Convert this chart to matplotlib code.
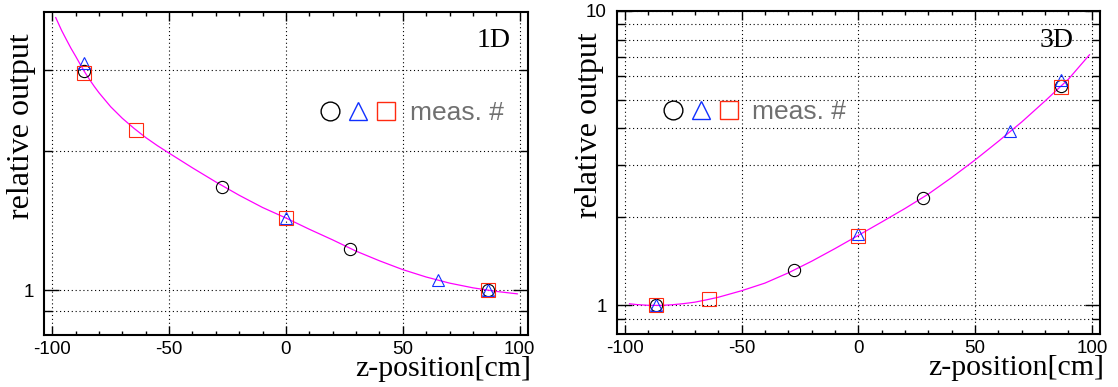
import matplotlib
matplotlib.use("Agg")
import matplotlib.pyplot as plt
from matplotlib.lines import Line2D
from matplotlib.legend_handler import HandlerTuple
from matplotlib.ticker import NullFormatter

plt.rcParams['font.family'] = ['Liberation Sans', 'DejaVu Sans']

# --- 1D panel values ---
z_circ_1d = [-86.6, -27.5, 27.5, 86.6]
out_circ_1d = [2.98, 1.67, 1.225, 1.0]
z_tri_1d = [-86.6, 0.0, 65.0, 86.6]
out_tri_1d = [3.10, 1.43, 1.052, 1.0]
z_sq_1d = [-86.6, -64.0, 0.0, 86.6]
out_sq_1d = [2.95, 2.22, 1.435, 1.0]
fit_z_1d = [-98.5, -96, -94, -92, -90, -88, -86, -84, -82, -80, -75, -70, -65, -60,
            -55, -50, -40, -30, -20, -10, 0, 10, 20, 30, 40, 50, 60, 70, 80, 90, 99]
fit_out_1d = [3.89, 3.65, 3.49, 3.34, 3.21, 3.08, 2.96, 2.855, 2.76, 2.675, 2.495,
              2.355, 2.24, 2.14, 2.055, 1.98, 1.84, 1.715, 1.605, 1.51, 1.433,
              1.355, 1.285, 1.215, 1.158, 1.108, 1.068, 1.036, 1.012, 0.994, 0.982]

# --- 3D panel values ---
z_circ_3d = [-86.6, -27.5, 27.5, 86.6]
out_circ_3d = [1.0, 1.318, 2.31, 5.57]
z_tri_3d = [-86.6, 0.0, 65.0, 86.6]
out_tri_3d = [1.0, 1.744, 3.92, 5.84]
z_sq_3d = [-86.6, -64.0, 0.0, 86.6]
out_sq_3d = [1.0, 1.048, 1.72, 5.50]
fit_z_3d = [-98, -95, -90, -85, -80, -75, -70, -65, -60, -50, -40, -30, -20, -10,
            0, 10, 20, 30, 40, 50, 60, 70, 80, 90, 99]
fit_out_3d = [1.013, 1.007, 1.001, 1.0, 1.005, 1.014, 1.026, 1.045, 1.066, 1.122,
              1.191, 1.29, 1.413, 1.56, 1.73, 1.92, 2.135, 2.39, 2.72, 3.12, 3.61,
              4.20, 4.95, 5.87, 7.10]

C_TRI = '#1030ff'
C_SQ = '#ff2a10'
C_FIT = '#ff00ff'

fig = plt.figure(figsize=(11.18, 3.87), dpi=100)
ax1 = fig.add_axes([0.0394, 0.1344, 0.4327, 0.8346])
ax2 = fig.add_axes([0.5516, 0.1370, 0.4323, 0.8346])


def draw(ax, zc, oc, zt, ot, zs, os_, fz, fo, ylim, ymajor, ymajlab, yminor,
         tag, tag_xy, leg_xy, ylab_x):
    ax.set_yscale('log')
    ax.set_xlim(-103.5, 103.5)
    ax.set_ylim(*ylim)

    ax.plot(fz, fo, color=C_FIT, lw=0.9, zorder=3)
    ax.plot(zc, oc, ls='none', marker='o', ms=8.8, mfc='none', mec='black', mew=0.8, zorder=4)
    ax.plot(zt, ot, ls='none', marker='^', ms=8.8, mfc='none', mec=C_TRI, mew=0.8, zorder=4)
    ax.plot(zs, os_, ls='none', marker='s', ms=9.4, mfc='none', mec=C_SQ, mew=0.8, zorder=4)

    ax.set_xticks([-100, -50, 0, 50, 100], ['-100', '-50', '0', '50', '100'])
    ax.set_xticks(range(-100, 101, 10), minor=True)
    ax.set_yticks(ymajor, ymajlab)
    ax.set_yticks(yminor, minor=True)
    ax.yaxis.set_minor_formatter(NullFormatter())

    ax.grid(True, which='major', axis='x', color='black', lw=0.8, ls=(0, (1, 2.5)))
    ax.grid(True, which='both', axis='y', color='black', lw=0.8, ls=(0, (1, 2.5)))
    ax.set_axisbelow(True)

    ax.tick_params(which='both', direction='in', top=True, right=True,
                   labelsize=13.5, width=1.0, color='black')
    ax.tick_params(axis='x', which='major', length=6.5, pad=4.5)
    ax.tick_params(axis='x', which='minor', length=3)
    ax.tick_params(axis='y', which='major', length=11, pad=7)
    ax.tick_params(axis='y', which='minor', length=5.5)
    for s in ax.spines.values():
        s.set_linewidth(1.5)

    ax.set_xlabel('z-position[cm]', fontfamily='Liberation Serif', fontsize=21.5,
                  ha='right', va='baseline')
    ax.xaxis.set_label_coords(1.008, -0.127)
    ax.set_ylabel('relative output', fontfamily='Liberation Serif', fontsize=23,
                  rotation=90, rotation_mode='anchor', ha='right', va='baseline')
    ax.yaxis.set_label_coords(ylab_x, 0.935)

    ax.text(tag_xy[0], tag_xy[1], tag, transform=ax.transAxes, ha='right', va='baseline',
            fontfamily='Liberation Serif', fontsize=20)

    hc = Line2D([], [], ls='none', marker='o', ms=13.5, mfc='none', mec='black', mew=1.0)
    ht = Line2D([], [], ls='none', marker='^', ms=13.5, mfc='none', mec=C_TRI, mew=1.0)
    hs = Line2D([], [], ls='none', marker='s', ms=13.5, mfc='none', mec=C_SQ, mew=1.0)
    ax.legend([(hc, ht, hs)], ['meas. #'],
              handler_map={tuple: HandlerTuple(ndivide=None, pad=0)},
              loc='center left', bbox_to_anchor=leg_xy, frameon=False,
              borderpad=0, borderaxespad=0, handlelength=3.2, handletextpad=0.35,
              prop={'family': 'Liberation Sans', 'size': 19}, labelcolor='#707070')


draw(ax1, z_circ_1d, out_circ_1d, z_tri_1d, out_tri_1d, z_sq_1d, out_sq_1d,
     fit_z_1d, fit_out_1d, (0.8, 4.0), [1], ['1'], [0.9, 2, 3],
     '1D', (0.965, 0.893), (0.562, 0.688), -0.031)
draw(ax2, z_circ_3d, out_circ_3d, z_tri_3d, out_tri_3d, z_sq_3d, out_sq_3d,
     fit_z_3d, fit_out_3d, (0.8, 10.0), [1, 10], ['1', '10'],
     [0.9, 2, 3, 4, 5, 6, 7, 8, 9],
     '3D', (0.946, 0.889), (0.087, 0.686), -0.041)

fig.savefig('out.png', dpi=100)
